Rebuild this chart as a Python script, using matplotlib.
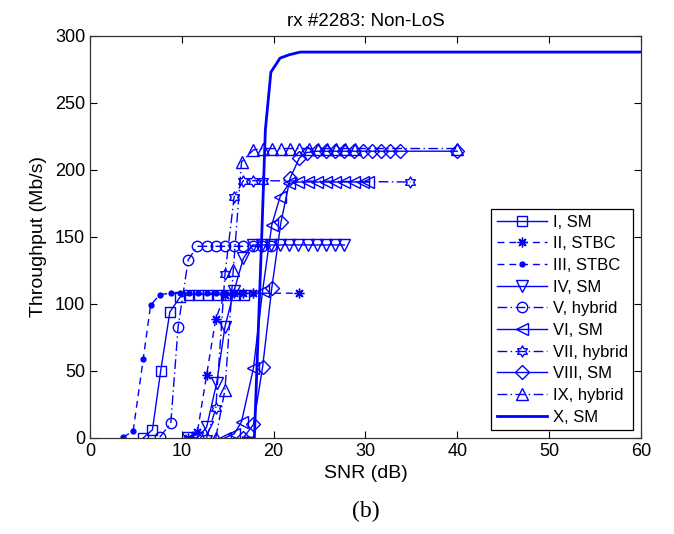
import numpy as np
import matplotlib
matplotlib.use("Agg")
import matplotlib.pyplot as plt
from matplotlib.path import Path

plt.rcParams['font.family'] = ['Liberation Sans', 'DejaVu Sans']
plt.rcParams['lines.scale_dashes'] = False

# throughput vs SNR for each transmission mode
snr_1 = [5.8, 6.8, 7.7, 8.7, 9.8, 10.8, 11.8, 12.8, 13.8, 14.8, 15.8, 16.8]
thr_1 = [0, 6, 50, 94, 105, 107, 107, 107, 107, 107, 107, 107]

snr_2 = [10.7, 11.7, 12.7, 13.7, 14.7, 15.7, 16.7, 17.7, 22.8]
thr_2 = [0, 4.5, 47, 89, 107, 108, 108, 108, 108]

snr_3 = [3.6, 4.7, 5.8, 6.6, 7.6, 8.8, 9.8, 10.8, 11.8, 12.7, 13.7, 14.7, 15.7, 16.7, 17.7]
thr_3 = [0.5, 5, 59, 99, 107, 108, 108, 108, 108, 108, 108, 108, 108, 108, 108]

snr_4 = [10.7, 11.7, 12.7, 13.8, 14.7, 15.7, 16.7, 17.7, 18.7, 19.7, 20.7, 21.7, 22.7,
         23.7, 24.7, 25.7, 26.7, 27.7]
thr_4 = [0, 0, 8, 41, 83, 110, 134, 144, 144, 144, 144, 144, 144, 144, 144, 144, 144, 144]

snr_5 = [7.6, 8.8, 9.6, 10.7, 11.7, 12.7, 13.7, 14.7, 15.7, 16.7, 17.7, 18.7, 19.7]
thr_5 = [0.5, 11, 83, 133, 143, 143, 143, 143, 143, 143, 143, 143, 143]

snr_6 = [14.7, 15.7, 16.5, 17.8, 18.8, 19.8, 20.7, 21.7, 22.7, 23.7, 24.7, 25.7, 26.7,
         27.7, 28.7, 29.7, 30.3]
thr_6 = [0, 3, 12, 52, 110, 159, 180, 190, 191, 191, 191, 191, 191, 191, 191, 191, 191]

snr_7 = [12.7, 13.7, 14.7, 15.7, 16.7, 17.8, 18.8, 34.9]
thr_7 = [0, 22, 122, 180, 192, 192, 192, 191]

snr_8 = [16.7, 17.8, 18.8, 19.8, 20.8, 21.8, 22.8, 23.6, 24.7, 25.7, 26.7, 27.7, 28.7,
         29.7, 30.7, 31.7, 32.7, 33.8, 40.0]
thr_8 = [0, 10, 53, 112, 161, 194, 209, 213, 214, 214, 214, 214, 214, 214, 214, 214,
         214, 214, 214]

snr_9 = [13.7, 14.7, 15.6, 16.5, 17.8, 18.8, 19.8, 20.8, 21.8, 22.8, 23.8, 24.8, 25.8,
         26.8, 27.8, 28.9, 40.0]
thr_9 = [0, 36, 125, 206, 215, 216, 216, 216, 216, 216, 216, 216, 216, 216, 216, 216, 216]

snr_10 = [16.7, 17.9, 18.7, 19.1, 19.7, 20.7, 21.7, 22.9, 60.0]
thr_10 = [0, 0, 150, 230, 273, 283.5, 286, 288, 288]

labels = ['I, SM', 'II, STBC', 'III, STBC', 'IV, SM', 'V, hybrid', 'VI, SM',
          'VII, hybrid', 'VIII, SM', 'IX, hybrid', 'X, SM']

# open six-pointed star marker
ang = np.pi / 2 + np.arange(12) * np.pi / 6
rad = np.where(np.arange(12) % 2 == 0, 1.0, 0.577)
hexv = np.column_stack([rad * np.cos(ang), rad * np.sin(ang)])
hexagram = Path(np.vstack([hexv, hexv[:1]]), closed=True)

blue = '#0000ff'
solid = '-'
dashed = (0, (5, 3.5))
dashdot = (0, (7, 2.5, 1, 2.5))

series = [
    (snr_1, thr_1, solid, 's', 7.5),
    (snr_2, thr_2, dashed, (8, 2, 0), 7),
    (snr_3, thr_3, dashed, 'o', 3.5),
    (snr_4, thr_4, solid, 'v', 8),
    (snr_5, thr_5, dashdot, 'o', 7.5),
    (snr_6, thr_6, solid, '<', 8),
    (snr_7, thr_7, dashdot, hexagram, 8),
    (snr_8, thr_8, solid, 'D', 7),
    (snr_9, thr_9, dashdot, '^', 8),
]

fig = plt.figure(figsize=(6.74, 5.34), dpi=100)
ax = fig.add_axes([0.1335, 0.180, 0.8175, 0.7526])

for (x, y, ls, mk, ms), lab in zip(series, labels):
    filled = mk == 'o' and ms < 5
    ax.plot(x, y, color=blue, linestyle=ls, linewidth=1.0, marker=mk, markersize=ms,
            markerfacecolor=blue if filled else 'none', markeredgecolor=blue,
            markeredgewidth=1.0, label=lab)
ax.plot(snr_10, thr_10, color=blue, linewidth=2.0, label=labels[9])

ax.set_xlim(0, 60)
ax.set_ylim(0, 300)
ax.set_xticks(range(0, 61, 10))
ax.set_yticks(range(0, 301, 50))
ax.tick_params(direction='in', top=True, right=True, length=5, labelsize=13)
for s in ax.spines.values():
    s.set_linewidth(0.9)
    s.set_color('#333333')

ax.set_xlabel('SNR (dB)', fontsize=14, labelpad=4)
ax.set_ylabel('Throughput (Mb/s)', fontsize=14, labelpad=6)
ax.set_title('rx #2283: Non-LoS', fontsize=13.5, pad=7)

leg = ax.legend(loc='lower right', fontsize=12, numpoints=1, handlelength=3.0,
                handletextpad=0.35, borderaxespad=0.45, labelspacing=0.4,
                fancybox=False, framealpha=1, edgecolor='black', borderpad=0.35)
leg.get_frame().set_linewidth(0.9)

fig.text(0.5425, 0.032, '(b)', fontsize=17, family='Liberation Serif', ha='center')

fig.savefig('out.png', dpi=100)
